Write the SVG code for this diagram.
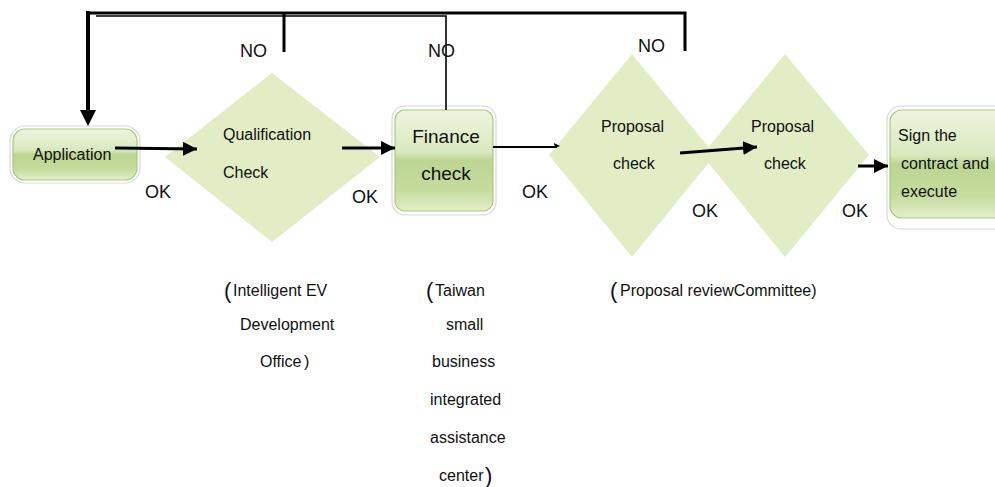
<svg xmlns="http://www.w3.org/2000/svg" width="995" height="487" viewBox="0 0 995 487">
<style>
text{font-family:"Liberation Sans",Arial,sans-serif;fill:#111}
.lbl{font-size:18px}
.t15{font-size:16px}
.note{font-size:16px}
.par{font-size:22px}
.dia{fill:#e2ecc5}
.outer{fill:#fff;stroke:#d8d8d8;stroke-width:1.2}
.inner{fill:url(#g);stroke:#a9c87a;stroke-width:1.2}
.ln{stroke:#000;fill:none}
</style>
<defs>
<linearGradient id="g" x1="0" y1="0" x2="0" y2="1">
<stop offset="0" stop-color="#eef5e0"/>
<stop offset="0.42" stop-color="#d9e8be"/>
<stop offset="0.5" stop-color="#bcd592"/>
<stop offset="0.8" stop-color="#c6dc9e"/>
<stop offset="1" stop-color="#e3efcc"/>
</linearGradient>
<marker id="ah" markerUnits="userSpaceOnUse" markerWidth="16" markerHeight="16" refX="14" refY="7" orient="auto">
<path d="M0,0 L14,7 L0,14 Z" fill="#000"/>
</marker>
</defs>

<g id="application">
<rect class="outer" x="10" y="126" width="130" height="57" rx="15"/>
<rect class="inner" x="13" y="129" width="124" height="51" rx="12"/>
<text class="t15" x="33" y="160">Application</text>
</g>

<g id="qualification">
<polygon class="dia" points="272,73 380,157 272,242 165,157"/>
<text class="t15" x="223" y="140">Qualification</text>
<text class="t15" x="223" y="178">Check</text>
</g>

<g id="finance">
<rect class="outer" x="392" y="106" width="104" height="109" rx="13"/>
<rect class="inner" x="395" y="110" width="98" height="101" rx="10"/>
<text x="446" y="143" font-size="19" text-anchor="middle">Finance</text>
<text x="446" y="180" font-size="19" text-anchor="middle">check</text>
</g>

<g id="proposal1">
<polygon class="dia" points="632,54 715,155 632,257 549,155"/>
<text class="t15" x="601" y="132">Proposal</text>
<text class="t15" x="613" y="169">check</text>
</g>

<g id="proposal2">
<polygon class="dia" points="785,54 869,155 785,257 702,155"/>
<text class="t15" x="751" y="132">Proposal</text>
<text class="t15" x="764" y="169">check</text>
</g>

<g id="sign">
<rect class="outer" x="887" y="106" width="130" height="123" rx="14"/>
<rect class="inner" x="890" y="110" width="124" height="108" rx="12"/>
<text class="t15" x="898" y="141">Sign the</text>
<text class="t15" x="901" y="169">contract and</text>
<text class="t15" x="901" y="197">execute</text>
</g>

<g id="connectors">
<polyline class="ln" stroke-width="3" points="685,51 685,13 88,13"/>
<line class="ln" stroke-width="4" x1="88" y1="11" x2="88" y2="110"/>
<polygon points="80,110 96,110 88,126" fill="#000"/>
<line class="ln" stroke-width="3" x1="284" y1="14" x2="284" y2="52"/>
<polyline class="ln" stroke-width="1.6" points="446,110 446,16 96,16"/>
<line class="ln" stroke-width="3" x1="115" y1="148" x2="197" y2="149" marker-end="url(#ah)"/>
<line class="ln" stroke-width="3" x1="342" y1="148" x2="395" y2="148" marker-end="url(#ah)"/>
<line class="ln" stroke-width="2" x1="493" y1="147" x2="557" y2="147"/>
<polygon points="554,143 560,146 555,148" fill="#000"/>
<line class="ln" stroke-width="3" x1="680" y1="153" x2="757" y2="147" marker-end="url(#ah)"/>
<line class="ln" stroke-width="3" x1="858" y1="166" x2="888" y2="166" marker-end="url(#ah)"/>
</g>

<g id="labels">
<text class="lbl" x="240" y="57" font-size="19">NO</text>
<text class="lbl" x="428" y="57" font-size="19">NO</text>
<text class="lbl" x="638" y="52" font-size="19">NO</text>
<text class="lbl" x="145" y="198">OK</text>
<text class="lbl" x="352" y="203">OK</text>
<text class="lbl" x="522" y="198">OK</text>
<text class="lbl" x="692" y="217">OK</text>
<text class="lbl" x="842" y="217">OK</text>
</g>

<g id="notes">
<text x="224" y="298" class="par">(</text>
<text x="233" y="296" class="note">Intelligent EV</text>
<text x="240" y="330" class="note">Development</text>
<text x="260" y="367" class="note">Office</text>
<text x="304" y="367" class="note">)</text>
<text x="426" y="298" class="par">(</text>
<text x="435" y="296" class="note">Taiwan</text>
<text x="446" y="330" class="note">small</text>
<text x="432" y="367" class="note">business</text>
<text x="430" y="405" class="note">integrated</text>
<text x="430" y="443" class="note">assistance</text>
<text x="439" y="481" class="note">center</text>
<text x="485" y="483" class="par">)</text>
<text x="610" y="298" class="par">(</text>
<text x="620" y="296" class="note">Proposal reviewCommittee)</text>
</g>
</svg>
